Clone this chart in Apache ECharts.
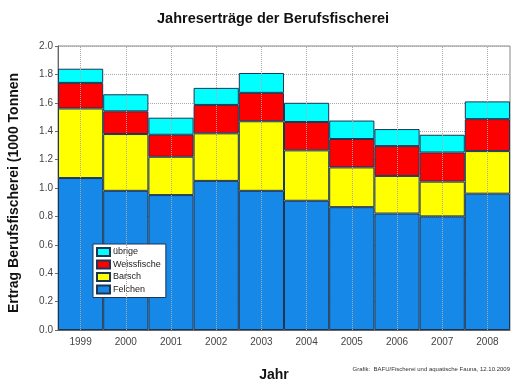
<!DOCTYPE html>
<html><head><meta charset="utf-8">
<script src="https://cdn.jsdelivr.net/npm/echarts@6/dist/echarts.min.js"></script>
<style>html,body{margin:0;padding:0;background:#fff}#c{width:515px;height:387px}</style>
</head><body><div id="c"></div>
<script>
var years = ['1999','2000','2001','2002','2003','2004','2005','2006','2007','2008'];
var felchen = [1.07, 0.98, 0.95, 1.05, 0.98, 0.91, 0.865, 0.82, 0.80, 0.96];
var barsch = [0.49, 0.40, 0.27, 0.335, 0.49, 0.355, 0.28, 0.265, 0.245, 0.30];
var weissfische = [0.18, 0.16, 0.155, 0.20, 0.20, 0.20, 0.20, 0.21, 0.205, 0.225];
var uebrige = [0.10, 0.12, 0.12, 0.12, 0.14, 0.135, 0.13, 0.12, 0.125, 0.125];
var yTicks = ['0.0','0.2','0.4','0.6','0.8','1.0','1.2','1.4','1.6','1.8','2.0'];

var chart = echarts.init(document.getElementById('c'));
var border = '#1c3552';
function bar(name, data, color) {
  return {name: name, type: 'bar', stack: 't', data: data, barCategoryGap: '0%', z: 3,
    itemStyle: {color: color, borderColor: border, borderWidth: 1}};
}
chart.setOption({
  animation: false,
  textStyle: {fontFamily: 'Liberation Sans, Arial, sans-serif'},
  title: {text: 'Jahreserträge der Berufsfischerei', left: 152, top: 6,
    textStyle: {fontSize: 14.5, fontWeight: 'bold', color: '#111'}},
  grid: {left: 58, right: 5, top: 46, bottom: 57, show: true, borderColor: '#888', borderWidth: 1},
  legend: {orient: 'vertical', left: 93, top: 244, data: ['übrige','Weissfische','Barsch','Felchen'],
    backgroundColor: '#fff', borderColor: border, borderWidth: 1, padding: [3, 5, 3, 3],
    itemWidth: 13, itemHeight: 8, itemGap: 2.5, icon: 'rect',
    textStyle: {fontSize: 9, color: '#222', padding: [0,0,0,-2]}},
  xAxis: {type: 'category', data: years,
    axisLine: {lineStyle: {color: '#666'}}, axisTick: {show: false},
    axisLabel: {fontSize: 10, color: '#444', margin: 7},
    splitLine: {show: false}},
  yAxis: {type: 'value', min: 0, max: 2, interval: 0.2,
    axisLine: {show: true, lineStyle: {color: '#666'}},
    axisTick: {show: true, length: 3, lineStyle: {color: '#666'}},
    axisLabel: {fontSize: 10, color: '#444', margin: 5, formatter: function (v) { return yTicks[Math.round(v / 0.2)]; }},
    splitLine: {show: true, lineStyle: {color: '#aaa', type: 'dotted'}}},
  graphic: [
    {type: 'text', x: 14, y: 193, rotation: Math.PI / 2,
      style: {text: 'Ertrag Berufsfischerei (1000 Tonnen', font: 'bold 14px Liberation Sans, Arial, sans-serif', fill: '#111', align: 'center', verticalAlign: 'middle'}},
    {type: 'text', x: 274, y: 375, style: {text: 'Jahr', font: 'bold 14px Liberation Sans, Arial, sans-serif', fill: '#111', align: 'center', verticalAlign: 'middle'}},
    {type: 'text', x: 510, y: 369, style: {text: 'Grafik:  BAFU/Fischerei und aquatische Fauna, 12.10.2009', font: '6px Liberation Sans, Arial, sans-serif', fill: '#333', align: 'right', verticalAlign: 'middle'}}
  ],
  series: [
    bar('Felchen', felchen, '#1689e8'),
    bar('Barsch', barsch, '#ffff00'),
    bar('Weissfische', weissfische, '#ff0000'),
    bar('übrige', uebrige, '#00ffff'),
    {type: 'line', data: [], z: 1, silent: true,
      markLine: {silent: true, symbol: ['none','none'], label: {show: false},
        lineStyle: {color: '#aaa', type: 'dotted', width: 1},
        data: years.map(function (y) { return {xAxis: y}; })}}
  ]
});
</script></body></html>
